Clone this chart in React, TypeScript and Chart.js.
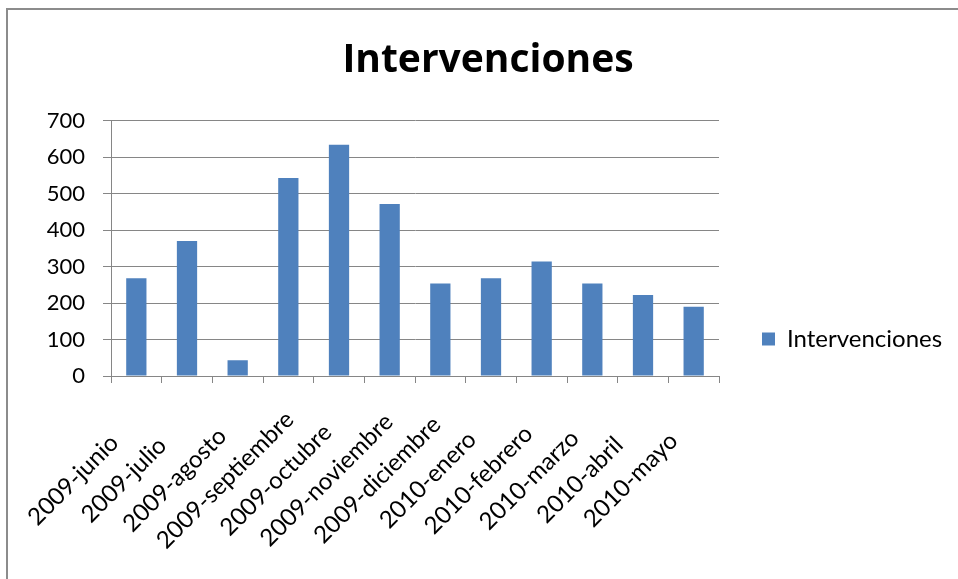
import React, { useEffect, useRef } from "react";
import { Chart, registerables } from "chart.js";

Chart.register(...registerables);

const categories = [
  "2009-junio",
  "2009-julio",
  "2009-agosto",
  "2009-septiembre",
  "2009-octubre",
  "2009-noviembre",
  "2009-diciembre",
  "2010-enero",
  "2010-febrero",
  "2010-marzo",
  "2010-abril",
  "2010-mayo",
];
const intervenciones = [268, 370, 43, 543, 634, 472, 254, 268, 314, 254, 222, 190];
const seriesName = "Intervenciones";
const chartTitle = "Intervenciones";
const yTicks = { min: 0, max: 700, step: 100 };

const FONT = "Lato, 'Open Sans', sans-serif";
const BAR = "#4F81BD";
const GRID = "#868686";

const rotatedLabels = {
  id: "rotatedLabels",
  afterDraw(chart: any) {
    const scale = chart.scales.x;
    const ctx = chart.ctx;
    ctx.save();
    ctx.font = `24px ${FONT}`;
    ctx.fillStyle = "#000";
    ctx.textAlign = "center";
    ctx.textBaseline = "middle";
    const labels = chart.data.labels as string[];
    labels.forEach((lab, i) => {
      const x = scale.getPixelForTick(i) - 63;
      const y = scale.top + 104;
      ctx.save();
      ctx.translate(x, y);
      ctx.rotate(-Math.PI / 4);
      ctx.fillText(lab, 0, 0);
      ctx.restore();
    });
    ctx.restore();
  },
};

export default function App() {
  const ref = useRef<HTMLCanvasElement | null>(null);
  useEffect(() => {
    if (!ref.current) return;
    const chart = new Chart(ref.current, {
      type: "bar",
      data: {
        labels: categories,
        datasets: [
          {
            label: seriesName,
            data: intervenciones,
            backgroundColor: BAR,
            borderWidth: 0,
            categoryPercentage: 1,
            barPercentage: 0.4,
          },
        ],
      },
      options: {
        animation: false,
        responsive: false,
        maintainAspectRatio: false,
        layout: { padding: { top: 0, left: 18, bottom: 0, right: 18 } },
        plugins: {
          title: {
            display: true,
            text: chartTitle,
            color: "#000",
            font: { family: "'Open Sans', Lato, sans-serif", size: 39, weight: "bold", lineHeight: 1.2 },
            padding: { top: 27, bottom: 37 },
          },
          legend: {
            display: true,
            position: "right",
            labels: {
              boxWidth: 13,
              boxHeight: 13,
              padding: 43,
              color: "#000",
              font: { family: FONT, size: 24 },
            },
          },
          tooltip: { enabled: false },
        },
        scales: {
          x: {
            grid: {
              display: true,
              drawOnChartArea: false,
              drawTicks: true,
              tickLength: 7,
              color: GRID,
              offset: true,
            },
            border: { display: true, color: GRID, width: 1 },
            ticks: { display: false },
            afterFit: (scale: any) => {
              scale.height = 292;
            },
          },
          y: {
            min: yTicks.min,
            max: yTicks.max,
            ticks: {
              stepSize: yTicks.step,
              color: "#000",
              padding: 18,
              font: { family: FONT, size: 22 },
            },
            grid: { color: GRID, tickLength: 8, drawTicks: true },
            border: { display: true, color: GRID, width: 1 },
            afterFit: (scale: any) => {
              scale.width = 85;
            },
          },
        },
      },
      plugins: [rotatedLabels],
    });
    return () => chart.destroy();
  }, []);

  return (
    <div
      style={{
        position: "absolute",
        left: 6,
        top: 8,
        width: 1000,
        height: 700,
        borderLeft: "2px solid #8c8c8c",
        borderTop: "2px solid #8c8c8c",
        background: "#fff",
      }}
    >
      <canvas ref={ref} width={960} height={658} style={{ display: "block", width: 960, height: 658 }} />
    </div>
  );
}
